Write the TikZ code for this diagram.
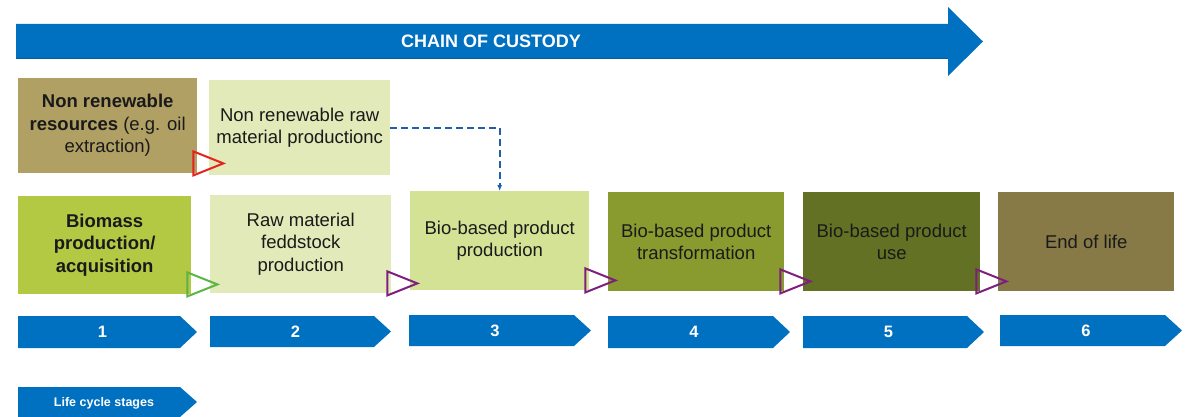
\documentclass[tikz,border=0pt]{standalone}
\usepackage{fontspec}
\setmainfont{Liberation Sans}
\usetikzlibrary{arrows.meta}
\definecolor{cblue}{HTML}{0070C0}
\definecolor{cbluedark}{HTML}{0B5A9C}
\definecolor{cnrres}{HTML}{B1A064}
\definecolor{clight}{HTML}{E1EAB8}
\definecolor{cbone}{HTML}{B3C944}
\definecolor{cbthree}{HTML}{D4E296}
\definecolor{cbfour}{HTML}{899B2F}
\definecolor{cbfive}{HTML}{627123}
\definecolor{cbsix}{HTML}{877A47}
\definecolor{ctgreen}{HTML}{5BB544}
\definecolor{ctred}{HTML}{E8201E}
\definecolor{ctpurple}{HTML}{7E1E7E}
\definecolor{cdash}{HTML}{2160A8}
\definecolor{ctext}{HTML}{1A1A1A}
\newcommand\opentri[2]{%
  \draw[#2, line width=2pt, line join=miter]
    ([shift={(-4,-22)}]#1.south east) -- ([shift={(26,-10)}]#1.south east)
    -- ([shift={(-4,2)}]#1.south east) -- cycle;}
\newcommand\chevron[6]{%
  \fill[cblue] (#2,#4) -- ({#3-17},#4) -- (#3,{(#4+#5)/2}) -- ({#3-17},#5) -- (#2,#5) -- cycle;
  \node[numtext] (#1) at ({(#2+#3-10)/2},{(#4+#5)/2}) {#6};}
\begin{document}
\begin{tikzpicture}[x=1pt,y=-1pt,
  box/.style={anchor=north west, inner sep=0pt, align=center, text=ctext,
    font=\fontsize{18.5}{22.5}\selectfont},
  numtext/.style={text=white, font=\fontsize{16.5}{19}\selectfont\bfseries, inner sep=0pt},
  dashconn/.style={cdash, line width=2pt, dash pattern=on 7pt off 4pt,
    -{Latex[length=6pt,width=5pt]}}]
\useasboundingbox (0,0) rectangle (1189,417);

% chain of custody arrow
\fill[cblue] (16,24) -- (948,24) -- (948,7) -- (983,41.5) -- (948,76) -- (948,59) -- (16,59) -- cycle;
\draw[cbluedark, line width=1pt] (16,58.5) -- (948,58.5);
\node[text=white, font=\fontsize{18}{21}\selectfont\bfseries, inner sep=0pt] (chain) at (491,41.5) {CHAIN OF CUSTODY};

% upper row
\node[box, fill=cnrres, minimum width=179pt, minimum height=95pt] (nrres) at (18,78)
  {\textbf{Non renewable}\\\textbf{resources} (e.g. oil\\extraction)};
\node[box, fill=clight, minimum width=181pt, minimum height=95pt] (nrraw) at (209,80)
  {Non renewable raw\\material productionc};

% lower row
\node[box, fill=cbone, minimum width=173pt, minimum height=98pt] (b1) at (18,196)
  {\textbf{Biomass}\\\textbf{production/}\\\textbf{acquisition}};
\node[box, fill=clight, minimum width=181pt, minimum height=98pt] (b2) at (210,195)
  {Raw material\\feddstock\\production};
\node[box, fill=cbthree, minimum width=179pt, minimum height=99pt] (b3) at (410,191)
  {Bio-based product\\production};
\node[box, fill=cbfour, minimum width=176pt, minimum height=99pt] (b4) at (608,192)
  {Bio-based product\\transformation};
\node[box, fill=cbfive, minimum width=177pt, minimum height=99pt] (b5) at (803,192)
  {Bio-based product\\use};
\node[box, fill=cbsix, minimum width=176pt, minimum height=99pt] (b6) at (998,192)
  {End of life};

% dashed connector
\draw[dashconn] (nrraw.east) -| (b3.north);

% open triangles
\opentri{nrres}{ctred}
\opentri{b1}{ctgreen}
\opentri{b2}{ctpurple}
\opentri{b3}{ctpurple}
\opentri{b4}{ctpurple}
\opentri{b5}{ctpurple}

% life cycle stage chevrons
\chevron{s1}{18}{197}{316}{348}{1}
\chevron{s2}{210}{391}{316}{347}{2}
\chevron{s3}{409}{591}{315}{346}{3}
\chevron{s4}{608}{790}{316}{348}{4}
\chevron{s5}{803}{984}{316}{348}{5}
\chevron{s6}{1000}{1182}{315}{346}{6}

% legend chevron
\fill[cblue] (18,387) -- (180,387) -- (197,402) -- (180,417) -- (18,417) -- cycle;
\node[text=white, font=\fontsize{12.5}{15}\selectfont\bfseries, inner sep=0pt] (legend) at (104,403) {Life cycle stages};
\end{tikzpicture}
\end{document}
